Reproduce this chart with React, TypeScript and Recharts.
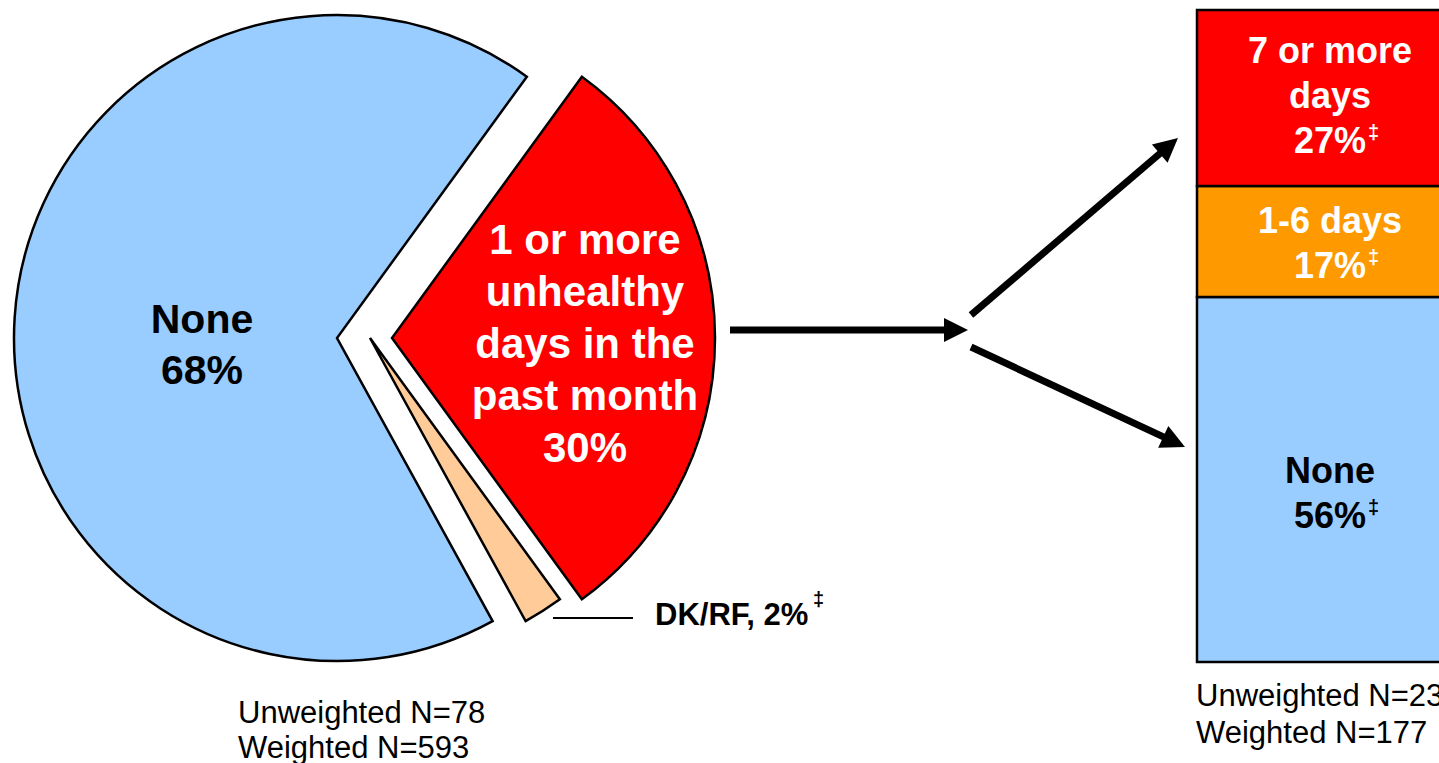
import React from 'react';
import { PieChart, Pie, Cell, BarChart, Bar, XAxis, YAxis } from 'recharts';

// pie: all adults
const pieNames = ['1 or more unhealthy days in the past month', 'DK/RF', 'None'];
const pieValues = [30, 2, 68];
const pieColors = ['#FF0000', '#FFCC99', '#99CCFF'];

// stacked bar: breakdown (bottom to top)
const barCategories = ['Breakdown'];
const barSeries = ['None', '1-6 days', '7 or more days'];
const barValues = [56, 17, 27];
const barColors = ['#99CCFF', '#FF9900', '#FF0000'];

const pieN = ['Unweighted N=78', 'Weighted N=593'];
const barN = ['Unweighted N=23', 'Weighted N=177'];

const FONT = '"Liberation Sans", Arial, sans-serif';

const pieData = pieNames.map((name, i) => ({ name, value: pieValues[i] }));
const barData = barCategories.map((c) => {
  const row: Record<string, string | number> = { category: c };
  barSeries.forEach((s, i) => (row[s] = barValues[i]));
  return row;
});

// each slice is pulled out horizontally by its own amount
const sliceCx = [392, 370, 337];

const barLabelLines = [
  ['None', `${barValues[0]}%`],
  ['1-6 days', `${barValues[1]}%`],
  ['7 or more', 'days', `${barValues[2]}%`],
];
const barLabelColor = ['#000', '#fff', '#fff'];
const barLabelShift = [13, 1, -3];

const makeBarLabel = (idx: number) => (props: any) => {
  const vb = props.viewBox ?? props;
  const x = vb.x ?? props.x;
  const y = vb.y ?? props.y;
  const w = vb.width ?? props.width;
  const h = vb.height ?? props.height;
  const lines = barLabelLines[idx];
  const lh = 45;
  const cx = x + w / 2;
  const first = y + h / 2 - ((lines.length - 1) * lh) / 2 + 13 + barLabelShift[idx];
  return (
    <g>
      {lines.map((t, i) => (
        <text
          key={i}
          x={cx}
          y={first + i * lh}
          textAnchor="middle"
          fill={barLabelColor[idx]}
          fontFamily={FONT}
          fontWeight="bold"
          fontSize={36}
        >
          {t}
        </text>
      ))}
      <text
        x={cx + 38}
        y={first + (lines.length - 1) * lh - 14}
        fill={barLabelColor[idx]}
        fontFamily={FONT}
        fontWeight="bold"
        fontSize={20}
      >
        ‡
      </text>
    </g>
  );
};

function arrow(x1: number, y1: number, x2: number, y2: number) {
  const dx = x2 - x1;
  const dy = y2 - y1;
  const len = Math.sqrt(dx * dx + dy * dy);
  const ux = dx / len;
  const uy = dy / len;
  const hl = 24;
  const hw = 12;
  const bx = x2 - ux * hl;
  const by = y2 - uy * hl;
  const pts = `${x2},${y2} ${bx - uy * hw},${by + ux * hw} ${bx + uy * hw},${by - ux * hw}`;
  return (
    <g>
      <line x1={x1} y1={y1} x2={bx + ux * 2} y2={by + uy * 2} stroke="#000" strokeWidth={7} />
      <polygon points={pts} fill="#000" />
    </g>
  );
}

export default function App() {
  return (
    <div
      style={{
        position: 'absolute',
        left: 0,
        top: 0,
        width: 1439,
        height: 763,
        overflow: 'hidden',
        background: '#fff',
        fontFamily: FONT,
      }}
    >
      <div style={{ position: 'absolute', left: 0, top: 0 }}>
        <PieChart width={760} height={763} margin={{ top: 0, right: 0, bottom: 0, left: 0 }}>
          {sliceCx.map((cx, k) => (
            <Pie
              key={k}
              data={pieData}
              dataKey="value"
              nameKey="name"
              cx={cx}
              cy={338}
              outerRadius={323}
              startAngle={54}
              endAngle={-306}
              isAnimationActive={false}
              label={false}
              labelLine={false}
            >
              {pieData.map((d, i) => (
                <Cell
                  key={d.name}
                  fill={i === k ? pieColors[i] : 'none'}
                  stroke={i === k ? '#000' : 'none'}
                  strokeWidth={2.5}
                />
              ))}
            </Pie>
          ))}
        </PieChart>
      </div>

      <div style={{ position: 'absolute', left: 1187, top: 0 }}>
        <BarChart
          width={286}
          height={763}
          data={barData}
          margin={{ top: 10, right: 10, bottom: 101, left: 10 }}
          barCategoryGap="0%"
        >
          <XAxis dataKey="category" hide />
          <YAxis domain={[0, 100]} hide />
          {barSeries.map((s, i) => (
            <Bar
              key={s}
              dataKey={s}
              stackId="a"
              fill={barColors[i]}
              stroke="#000"
              strokeWidth={2.5}
              isAnimationActive={false}
              label={makeBarLabel(i)}
            />
          ))}
        </BarChart>
      </div>

      <svg
        width={1439}
        height={763}
        style={{ position: 'absolute', left: 0, top: 0, pointerEvents: 'none' }}
        fontFamily={FONT}
      >
        {/* pie labels */}
        <text x={202} y={333} textAnchor="middle" fontWeight="bold" fontSize={41} fill="#000">
          {pieNames[2]}
        </text>
        <text x={202} y={384} textAnchor="middle" fontWeight="bold" fontSize={41} fill="#000">
          {`${pieValues[2]}%`}
        </text>
        {['1 or more', 'unhealthy', 'days in the', 'past month', `${pieValues[0]}%`].map((t, i) => (
          <text key={t} x={585} y={254 + i * 52} textAnchor="middle" fontWeight="bold" fontSize={42} fill="#fff">
            {t}
          </text>
        ))}
        <line x1={553} y1={618} x2={633} y2={618} stroke="#000" strokeWidth={2} />
        <text x={655} y={625} fontWeight="bold" fontSize={31} fill="#000">
          {`${pieNames[1]}, ${pieValues[1]}%`}
        </text>
        <text x={813} y={606} fontWeight="bold" fontSize={20} fill="#000">
          ‡
        </text>

        {/* arrows */}
        {arrow(730, 330, 968, 330)}
        {arrow(971, 315, 1178, 138)}
        {arrow(971, 347, 1185, 447)}

        {/* sample sizes */}
        {pieN.map((t, i) => (
          <text key={t} x={238} y={723 + i * 35} fontSize={31} fill="#000">
            {t}
          </text>
        ))}
        {barN.map((t, i) => (
          <text key={t} x={1196} y={706 + i * 37} fontSize={31} fill="#000">
            {t}
          </text>
        ))}
      </svg>
    </div>
  );
}
